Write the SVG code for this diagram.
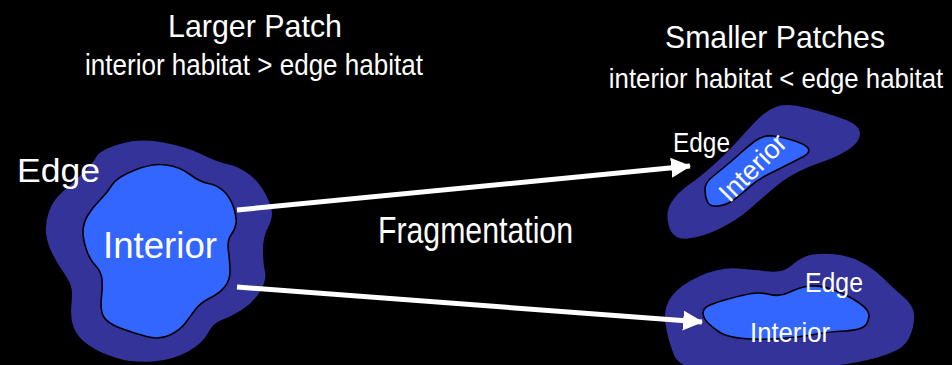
<svg xmlns="http://www.w3.org/2000/svg" width="952" height="365" viewBox="0 0 952 365">
<defs>
<style>
.edge{fill:#333399;stroke:none}
.int{fill:#3366ff;stroke:#000;stroke-width:1.6}
text{fill:#fff;font-family:"Liberation Sans Narrow","Liberation Sans",Arial,sans-serif}
.wide{font-family:"Liberation Sans",Arial,sans-serif}
.conn{stroke:#fff;stroke-width:5;fill:none}
</style>
<marker id="ah" markerUnits="userSpaceOnUse" markerWidth="20" markerHeight="20" viewBox="0 0 18 18" refX="17" refY="9" orient="auto">
<path d="M0,0 L18,9 L0,18 Z" fill="#fff"/>
</marker>
</defs>
<rect width="952" height="365" fill="#000"/>
<g id="titles">
<text x="255" y="37" font-size="32" text-anchor="middle" textLength="174" lengthAdjust="spacingAndGlyphs">Larger Patch</text>
<text x="254" y="75" font-size="29" text-anchor="middle" textLength="338" lengthAdjust="spacingAndGlyphs">interior habitat &gt; edge habitat</text>
<text x="775" y="48" font-size="32" text-anchor="middle" textLength="220" lengthAdjust="spacingAndGlyphs">Smaller Patches</text>
<text transform="translate(776,88) scale(0.92,1)" x="0" y="0" font-size="28" text-anchor="middle">interior habitat &lt; edge habitat</text>
</g>
<g id="large-patch">
<path class="edge" d="M 120,144 Q 140,138 163.5,142.5 Q 187,147 202,154.5 Q 217,162 228.5,164.5 Q 240,167 250,175 Q 260,183 266,195 Q 272,207 272,213.5 Q 272,220 267.5,228.5 Q 263,237 263,250 Q 263,263 265,271.5 Q 267,280 260,291.5 Q 253,303 241.5,310 Q 230,317 221.5,320 Q 213,323 208,333 Q 203,343 188,351.5 Q 173,360 153,361.5 Q 133,363 116.5,358 Q 100,353 88.5,345 Q 77,337 73.5,327 Q 70,317 71.5,303.5 Q 73,290 70,283.5 Q 67,277 62,270 Q 57,263 52,253 Q 47,243 46,233 Q 45,223 49,211.5 Q 53,200 63,191.5 Q 73,183 83,173 Q 93,163 96.5,156.5 Q 100,150 120,144 Z"/>
<path class="int" d="M 135,170 Q 153,163 166.5,165 Q 180,167 190,174.5 Q 200,182 208.5,183.5 Q 217,185 223.5,191 Q 230,197 233.5,207 Q 237,217 236,223.5 Q 235,230 231,235 Q 227,240 228.5,251.5 Q 230,263 230,271.5 Q 230,280 225,286.5 Q 220,293 210,298 Q 200,303 195,310 Q 190,317 185,323.5 Q 180,330 170,335 Q 160,340 146.5,336.5 Q 133,333 120,328 Q 107,323 103.5,316.5 Q 100,310 101.5,296.5 Q 103,283 101.5,276.5 Q 100,270 95,265 Q 90,260 86.5,250 Q 83,240 83,231.5 Q 83,223 88,215 Q 93,207 100,200 Q 107,193 112,185 Q 117,177 135,170 Z"/>
<text class="wide" x="17" y="182" font-size="34" textLength="83" lengthAdjust="spacingAndGlyphs">Edge</text>
<text class="wide" x="103" y="258" font-size="37" textLength="114" lengthAdjust="spacingAndGlyphs">Interior</text>
</g>
<g id="small-patch-1">
<path class="edge" d="M 777,106.5 Q 787,103 807,108 Q 827,113 843.5,119 Q 860,125 860,133.5 Q 860,142 848.5,149.5 Q 837,157 822,162 Q 807,167 795,173.5 Q 783,180 771.5,190 Q 760,200 748.5,210 Q 737,220 720,228.5 Q 703,237 688,238.5 Q 673,240 669,226.5 Q 665,213 671,203 Q 677,193 688.5,185 Q 700,177 713.5,165 Q 727,153 738.5,140 Q 750,127 758.5,118.5 Q 767,110 777,106.5 Z"/>
<path class="int" d="M 773,136 Q 783,137 795,141 Q 807,145 808.5,149 Q 810,153 803.5,156.5 Q 797,160 787,165 Q 777,170 767,175 Q 757,180 750,186.5 Q 743,193 735,199 Q 727,205 718.5,206 Q 710,207 707.5,202 Q 705,197 705,190 Q 705,183 711,178 Q 717,173 725,166.5 Q 733,160 740,153.5 Q 747,147 755,141 Q 763,135 773,136 Z"/>
<text x="673" y="152" font-size="28" textLength="57" lengthAdjust="spacingAndGlyphs">Edge</text>
<text transform="translate(752,167) rotate(-45)" x="0" y="10" font-size="27" text-anchor="middle" textLength="83" lengthAdjust="spacingAndGlyphs">Interior</text>
</g>
<g id="small-patch-2">
<path class="edge" d="M 671.5,296.5 Q 680,285 700,276 Q 720,267 738.5,268.5 Q 757,270 770,271.5 Q 783,273 791.5,265.5 Q 800,258 808.5,255.5 Q 817,253 832,254 Q 847,255 860,261.5 Q 873,268 883,278 Q 893,288 903,296.5 Q 913,305 914,313.5 Q 915,322 911,333.5 Q 907,345 897,350 Q 887,355 873.5,358.5 Q 860,362 840,365 Q 820,368 785,370 Q 750,372 715,371 Q 680,370 674,355 Q 668,340 665.5,324 Q 663,308 671.5,296.5 Z"/>
<path class="int" d="M 710,305 Q 717,302 730,298.5 Q 743,295 751.5,293.5 Q 760,292 770,294.5 Q 780,297 790,292 Q 800,287 810,286 Q 820,285 833.5,290 Q 847,295 857,301.5 Q 867,308 868.5,313 Q 870,318 866.5,324 Q 863,330 845,331 Q 827,332 813.5,334.5 Q 800,337 780,338.5 Q 760,340 743.5,338.5 Q 727,337 720,332.5 Q 713,328 708,323 Q 703,318 703,313 Q 703,308 710,305 Z"/>
<text x="805" y="292" font-size="27" textLength="58" lengthAdjust="spacingAndGlyphs">Edge</text>
<text x="750" y="342" font-size="28" textLength="80" lengthAdjust="spacingAndGlyphs">Interior</text>
</g>
<g id="connectors">
<line class="conn" x1="237" y1="210" x2="690" y2="166" marker-end="url(#ah)"/>
<line class="conn" x1="237" y1="287" x2="702" y2="322" marker-end="url(#ah)"/>
<text x="378" y="243" font-size="36" textLength="195" lengthAdjust="spacingAndGlyphs">Fragmentation</text>
</g>
</svg>
